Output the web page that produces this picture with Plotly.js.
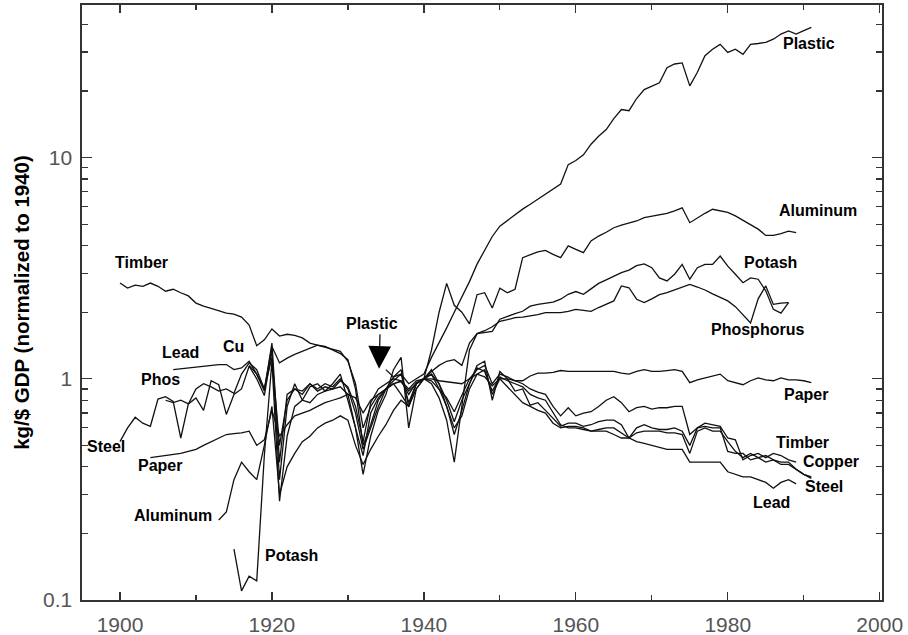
<!DOCTYPE html>
<html>
<head>
<meta charset="utf-8">
<script src="https://cdn.plot.ly/plotly-3.0.1.min.js"></script>
<style>
  html, body { margin: 0; padding: 0; background: #fff; }
  #chart { width: 908px; height: 635px; }
</style>
</head>
<body>
<div id="chart"></div>
<script>
// ---------------- DATA ----------------
const YEARS = [1900,1901,1902,1903,1904,1905,1906,1907,1908,1909,
  1910,1911,1912,1913,1914,1915,1916,1917,1918,1919,
  1920,1921,1922,1923,1924,1925,1926,1927,1928,1929,
  1930,1931,1932,1933,1934,1935,1936,1937,1938,1939,
  1940,1941,1942,1943,1944,1945,1946,1947,1948,1949,
  1950,1951,1952,1953,1954,1955,1956,1957,1958,1959,
  1960,1961,1962,1963,1964,1965,1966,1967,1968,1969,
  1970,1971,1972,1973,1974,1975,1976,1977,1978,1979,
  1980,1981,1982,1983,1984,1985,1986,1987,1988,1989,
  1990,1991];

const plasticStart = 1935;
const plastic = [1.1,1.02,1.05,0.95,1.0,1.05,1.25,1.45,1.7,2.0,
  2.35,2.75,3.3,3.8,4.4,4.9,5.2,5.5,5.85,6.15,
  6.48,6.8,7.2,7.6,9.3,9.7,10.3,11.5,12.5,13.4,
  15,16.5,16.3,18.5,20.3,21,21.8,25.5,26.5,26.8,
  21.1,24.3,28.9,30.9,32.5,29.9,30.9,29.3,32.5,32.8,
  33.2,34.3,36.2,37.4,36.2,37.5,38.8];

const aluminumStart = 1913;
const aluminum = [0.23,0.25,0.35,0.42,0.38,0.35,0.5,0.75,0.3,0.4,
  0.46,0.52,0.55,0.6,0.63,0.65,0.68,0.65,0.5,0.41,
  0.48,0.55,0.62,0.72,0.8,0.75,0.9,1.0,1.35,2.0,
  2.7,2.15,2.0,1.77,2.4,2.45,2.09,2.57,2.45,2.54,
  3.53,3.65,3.75,3.81,3.65,3.53,3.99,3.85,3.72,4.2,
  4.42,4.6,4.82,4.95,5.05,5.17,5.35,5.44,5.5,5.6,
  5.75,5.93,5.08,5.35,5.6,5.84,5.75,5.65,5.45,5.2,
  4.95,4.75,4.45,4.45,4.53,4.65,4.58];

const potashStart = 1915;
const potash = [0.17,0.11,0.128,0.122,0.45,1.2,0.28,0.55,0.75,0.8,
  0.78,0.85,0.88,0.9,0.92,0.85,0.6,0.45,0.7,0.82,
  0.9,0.95,0.85,0.75,0.95,1.0,0.95,0.82,0.65,0.42,
  0.75,1.35,1.6,1.62,1.64,1.86,1.92,1.97,2.02,2.13,
  2.17,2.2,2.22,2.29,2.41,2.48,2.41,2.55,2.7,2.8,
  2.9,3.02,3.1,3.25,3.31,3.18,2.86,2.77,2.97,3.29,
  2.82,3.18,3.29,3.29,3.59,3.23,2.97,2.72,2.86,2.82,
  2.5,2.06,1.98,2.21];

const phosphorusStart = 1906;
const phosphorus = [0.8,0.78,0.8,0.77,0.9,0.95,0.92,0.88,0.9,0.86,
  1.05,1.18,1.1,0.9,1.25,0.5,0.8,0.9,0.85,0.95,
  0.88,0.92,0.9,0.98,0.92,0.75,0.52,0.78,0.9,0.95,
  1.0,0.98,0.9,0.98,1.0,1.08,1.15,1.2,1.22,1.15,
  1.45,1.6,1.65,1.72,1.82,1.85,1.89,1.9,1.92,1.95,
  1.99,1.99,1.99,2.02,2.06,2.04,2.02,2.1,2.17,2.25,
  2.63,2.58,2.29,2.21,2.3,2.4,2.45,2.52,2.6,2.67,
  2.6,2.52,2.42,2.33,2.25,2.12,1.95,1.79,2.3,2.63,
  2.17,2.2,2.21];

const paperStart = 1904;
const paper = [0.44,0.445,0.45,0.455,0.46,0.47,0.48,0.5,0.52,0.54,
  0.56,0.565,0.57,0.58,0.5,0.53,0.72,0.55,0.62,0.68,
  0.7,0.72,0.75,0.78,0.8,0.82,0.85,0.82,0.7,0.8,
  0.85,0.9,0.95,0.97,0.88,0.95,1.0,1.0,0.98,0.97,
  0.96,0.95,1.0,1.05,1.02,0.93,1.0,1.0,0.98,0.98,
  1.03,1.06,1.06,1.07,1.09,1.08,1.08,1.08,1.08,1.08,
  1.08,1.08,1.06,1.05,1.08,1.1,1.08,1.08,1.09,1.1,
  1.08,0.96,0.99,1.01,1.03,1.05,0.98,0.96,0.94,0.98,
  1.01,0.99,0.98,1.01,0.99,0.99,0.98,0.96];

const timberStart = 1900;
const timber = [2.71,2.57,2.65,2.62,2.71,2.62,2.49,2.54,2.45,2.37,
  2.2,2.13,2.08,2.03,1.98,1.96,1.9,1.75,1.41,1.5,
  1.68,1.56,1.59,1.57,1.53,1.45,1.42,1.38,1.36,1.33,
  1.2,0.95,0.6,0.75,0.85,0.9,0.95,0.98,0.85,0.96,
  1.0,0.98,0.9,0.82,0.71,0.85,1.0,1.1,1.15,0.95,
  1.05,1.02,0.98,0.95,0.9,0.87,0.85,0.75,0.68,0.74,
  0.68,0.7,0.71,0.75,0.8,0.83,0.78,0.71,0.74,0.75,
  0.73,0.74,0.74,0.75,0.75,0.56,0.6,0.63,0.62,0.61,
  0.54,0.53,0.43,0.45,0.46,0.44,0.46,0.45,0.43,0.42];

const copperStart = 1917;
const copper = [1.15,1.05,0.9,1.4,1.18,1.24,1.29,1.33,1.38,1.42,
  1.4,1.35,1.3,1.22,0.9,0.5,0.62,0.8,0.9,0.98,
  1.05,0.78,0.95,1.0,1.05,0.95,0.8,0.64,0.8,0.95,
  1.12,1.08,0.88,1.02,0.98,0.95,0.92,0.85,0.82,0.8,
  0.7,0.62,0.6,0.6,0.59,0.58,0.59,0.6,0.6,0.57,
  0.54,0.57,0.58,0.58,0.58,0.57,0.57,0.56,0.46,0.58,
  0.6,0.58,0.58,0.52,0.47,0.44,0.46,0.44,0.42,0.43,
  0.42,0.42,0.39,0.37,0.355];

const steelStart = 1900;
const steel = [0.52,0.6,0.67,0.63,0.61,0.81,0.83,0.79,0.54,0.77,
  0.82,0.72,0.98,0.94,0.69,0.85,0.9,1.14,1.0,0.84,
  1.35,0.35,0.75,0.95,0.8,0.92,0.95,0.88,0.95,1.05,
  0.8,0.6,0.37,0.55,0.72,0.85,1.1,1.25,0.6,0.9,
  1.0,1.1,0.95,0.75,0.56,0.72,0.95,1.15,1.2,0.8,
  1.08,1.0,0.88,0.9,0.76,0.78,0.72,0.66,0.61,0.63,
  0.63,0.61,0.62,0.64,0.65,0.65,0.62,0.54,0.6,0.62,
  0.6,0.59,0.59,0.6,0.58,0.5,0.6,0.61,0.6,0.6,
  0.47,0.46,0.46,0.43,0.44,0.45,0.43,0.41,0.41,0.39,
  0.37,0.36];

const leadStart = 1907;
const lead = [1.1,1.11,1.12,1.13,1.14,1.15,1.16,1.16,1.1,1.12,
  1.2,1.05,0.88,1.45,0.42,0.85,0.9,0.88,0.95,0.9,
  0.95,0.92,1.0,0.9,0.7,0.48,0.6,0.75,0.9,1.02,
  1.1,0.75,0.95,1.0,1.05,0.9,0.75,0.6,0.68,0.9,
  1.05,1.1,0.85,1.0,0.92,0.85,0.78,0.75,0.72,0.7,
  0.63,0.6,0.61,0.61,0.6,0.58,0.58,0.58,0.56,0.54,
  0.54,0.52,0.51,0.5,0.49,0.48,0.48,0.48,0.42,0.42,
  0.42,0.42,0.42,0.38,0.37,0.36,0.36,0.35,0.34,0.32,
  0.34,0.35,0.335];

const SERIES_NAMES = ["Plastic","Aluminum","Potash","Phosphorus","Paper","Timber","Copper","Steel","Lead"];
const SERIES_VALUES = [plastic,aluminum,potash,phosphorus,paper,timber,copper,steel,lead];
const SERIES_STARTS = [plasticStart,aluminumStart,potashStart,phosphorusStart,paperStart,timberStart,copperStart,steelStart,leadStart];

// Text labels drawn next to the lines
const LABEL_TEXT = ["Plastic","Aluminum","Potash","Phosphorus","Paper","Timber","Copper","Steel","Lead",
  "Timber","Lead","Cu","Phos","Steel","Paper","Aluminum","Potash","Plastic"];
const LABEL_X = [1990.7,1991.9,1985.6,1983.9,1990.3,1989.9,1993.6,1992.7,1985.8,
  1902.8,1908.0,1914.9,1905.3,1898.2,1905.3,1907.0,1922.6,1933.2];
const LABEL_Y = [1.518,0.763,0.528,0.221,-0.073,-0.286,-0.376,-0.489,-0.557,
  0.528,0.121,0.144,-0.001,-0.308,-0.394,-0.616,-0.801,0.252];

// ---------------- BUILD ----------------
const traces = SERIES_VALUES.map((vals, i) => {
  const i0 = YEARS.indexOf(SERIES_STARTS[i]);
  return {
    type: 'scatter', mode: 'lines', name: SERIES_NAMES[i],
    x: YEARS.slice(i0, i0 + vals.length), y: vals,
    line: {color: '#111', width: 1.3},
    hoverinfo: 'x+y+name'
  };
});

const annotations = LABEL_TEXT.map((t, i) => ({
  x: LABEL_X[i], y: LABEL_Y[i], xref: 'x', yref: 'y',
  text: t, showarrow: false,
  font: {family: 'Liberation Sans, Arial, sans-serif', size: 16, color: '#000', weight: 'bold'},
  xanchor: 'center', yanchor: 'middle'
}));
// arrow pointing to the start of plastic
annotations.push({
  x: 1934.1, y: 0.045, xref: 'x', yref: 'y', text: '',
  showarrow: true, ax: 1, ay: -36, arrowhead: 2, arrowsize: 3.8, arrowwidth: 1.2,
  arrowcolor: '#000', standoff: 0
});

const minorY = [0.2,0.3,0.4,0.5,0.6,0.7,0.8,0.9,2,3,4,5,6,7,8,9,20,30,40];

const layout = {
  width: 908, height: 635,
  margin: {l: 82, r: 26, t: 5, b: 35},
  paper_bgcolor: '#fff', plot_bgcolor: '#fff',
  showlegend: false,
  font: {family: 'Liberation Sans, Arial, sans-serif', color: '#333'},
  xaxis: {
    range: [1895, 2000.3], showgrid: false, zeroline: false,
    tickmode: 'array', tickvals: [1900,1920,1940,1960,1980,2000],
    ticktext: ['1900','1920','1940','1960','1980','2000'],
    ticks: 'inside', ticklen: 8, tickwidth: 1.3, tickcolor: '#333',
    minor: {tickvals: [1910,1930,1950,1970,1990], ticks: 'inside', ticklen: 5, tickwidth: 1.2, tickcolor: '#333'},
    showline: true, linecolor: '#333', linewidth: 1.6, mirror: 'ticks',
    tickfont: {size: 21, color: '#555', family: 'Liberation Sans, Arial, sans-serif'},
    ticklabelstandoff: 5
  },
  yaxis: {
    type: 'log', range: [-1, 1.69], showgrid: false, zeroline: false,
    tickmode: 'array', tickvals: [0.1, 1, 10], ticktext: ['0.1', '1', '10'],
    ticks: 'inside', ticklen: 10, tickwidth: 1.3, tickcolor: '#333',
    minor: {tickvals: minorY, ticks: 'inside', ticklen: 6, tickwidth: 1.2, tickcolor: '#333'},
    showline: true, linecolor: '#333', linewidth: 1.6, mirror: 'ticks',
    tickfont: {size: 21, color: '#555', family: 'Liberation Sans, Arial, sans-serif'},
    ticklabelstandoff: 4,
    title: {text: 'kg/$ GDP (normalized to 1940)', standoff: 8,
      font: {size: 20.5, color: '#000', family: 'Liberation Sans, Arial, sans-serif', weight: 'bold'}}
  },
  annotations: annotations
};

Plotly.newPlot('chart', traces, layout, {displayModeBar: false, staticPlot: true});
</script>
</body>
</html>
